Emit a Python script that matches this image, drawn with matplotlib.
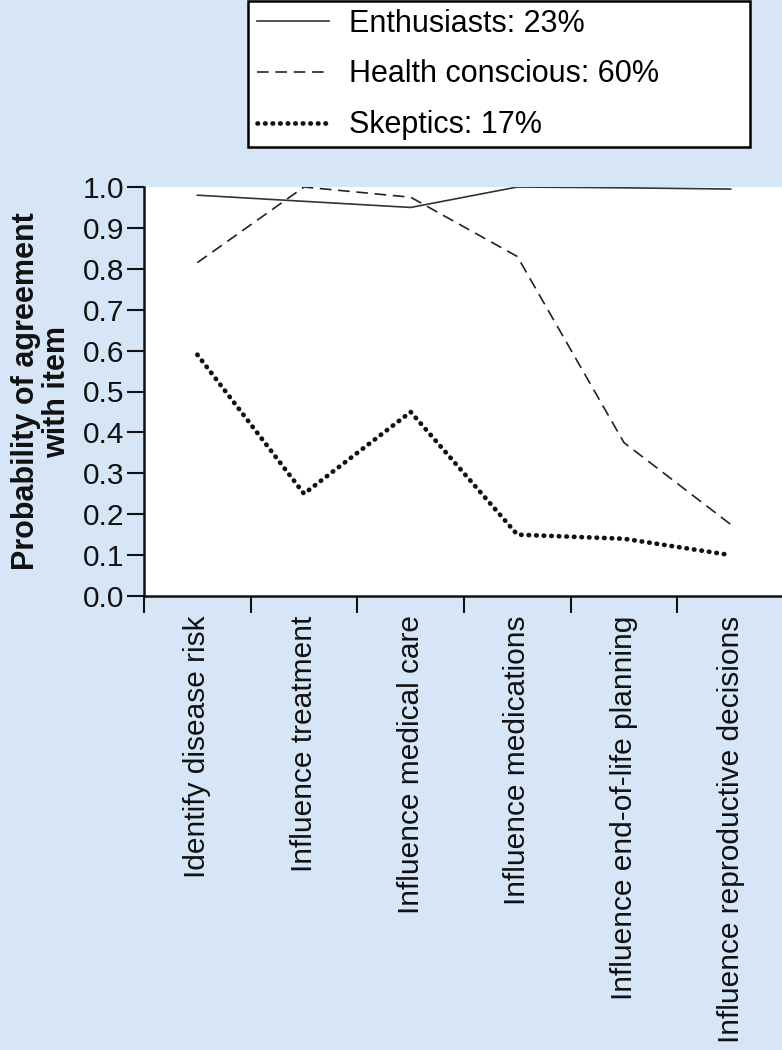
import matplotlib.pyplot as plt
import numpy as np
from matplotlib.ticker import FixedLocator, NullFormatter
from matplotlib.patches import Rectangle

plt.rcParams['font.family'] = ['Liberation Sans', 'DejaVu Sans']

categories = ["Identify disease risk", "Influence treatment", "Influence medical care",
              "Influence medications", "Influence end-of-life planning",
              "Influence reproductive decisions"]
enthusiasts = [0.98, 0.965, 0.95, 1.0, 0.998, 0.995]
health_conscious = [0.815, 1.0, 0.975, 0.83, 0.375, 0.175]
skeptics = [0.59, 0.25, 0.45, 0.15, 0.14, 0.10]
series_labels = ["Enthusiasts: 23%", "Health conscious: 60%", "Skeptics: 17%"]
yticks = np.round(np.arange(0, 1.01, 0.1), 1)

bg = '#d6e6f6'
W, H = 782, 1050
fig = plt.figure(figsize=(W / 100, H / 100), dpi=100, facecolor=bg)

# axes in pixel coords
left, right, top, bottom = 144, 784, 187, 596
ax = fig.add_axes([left / W, 1 - bottom / H, (right - left) / W, (bottom - top) / H])
ax.set_facecolor('white')

x = np.arange(len(categories)) + 0.5
l1, = ax.plot(x, enthusiasts, color='#333333', lw=1.2, ls='-')
l2, = ax.plot(x, health_conscious, color='#222222', lw=1.2, ls=(0, (7, 4)))
l3, = ax.plot(x, skeptics, color='#111111', lw=3.4, ls=(0, (0.1, 1.5)),
              dash_capstyle='round')

ax.set_xlim(0, len(categories))
ax.set_ylim(0, 1.0)
for s in ['top', 'right']:
    ax.spines[s].set_visible(False)
for s in ['left', 'bottom']:
    ax.spines[s].set_linewidth(1.8)
    ax.spines[s].set_color('#111111')

ax.set_yticks(yticks)
ax.set_yticklabels([f"{v:.1f}" for v in yticks])
ax.tick_params(axis='y', length=12, width=1.5, pad=2, labelsize=21.5, colors='#111111')

ax.xaxis.set_major_locator(FixedLocator(np.arange(len(categories) + 1)))
ax.xaxis.set_major_formatter(NullFormatter())
ax.set_xticks(x, minor=True)
ax.set_xticklabels(categories, minor=True, rotation=90, va='top', ha='center')
ax.tick_params(axis='x', which='major', length=12, width=1.5, colors='#111111')
ax.tick_params(axis='x', which='minor', length=0, pad=14, labelsize=21.5,
               labelcolor='#111111')

ax.set_ylabel("Probability of agreement\nwith item", fontsize=22, fontweight='bold',
              color='#111111', labelpad=8, linespacing=1.05)

# legend box drawn separately so it can touch the top edge
box = Rectangle((248 / W, 1 - 147 / H), (750 - 248) / W, 146 / H,
                transform=fig.transFigure, facecolor='white', edgecolor='black',
                linewidth=1.8, zorder=1)
fig.add_artist(box)

leg = fig.legend([l1, l2, l3], series_labels, loc='upper left',
                 bbox_to_anchor=(248 / W, 1 - 10 / H, (750 - 248) / W, 0.01),
                 mode='expand', fontsize=22, frameon=False,
                 handlelength=2.35, handletextpad=0.65, labelspacing=0.68,
                 borderpad=0.3, borderaxespad=0)
leg.set_zorder(2)

fig.savefig('out.png', dpi=100, facecolor=bg)
